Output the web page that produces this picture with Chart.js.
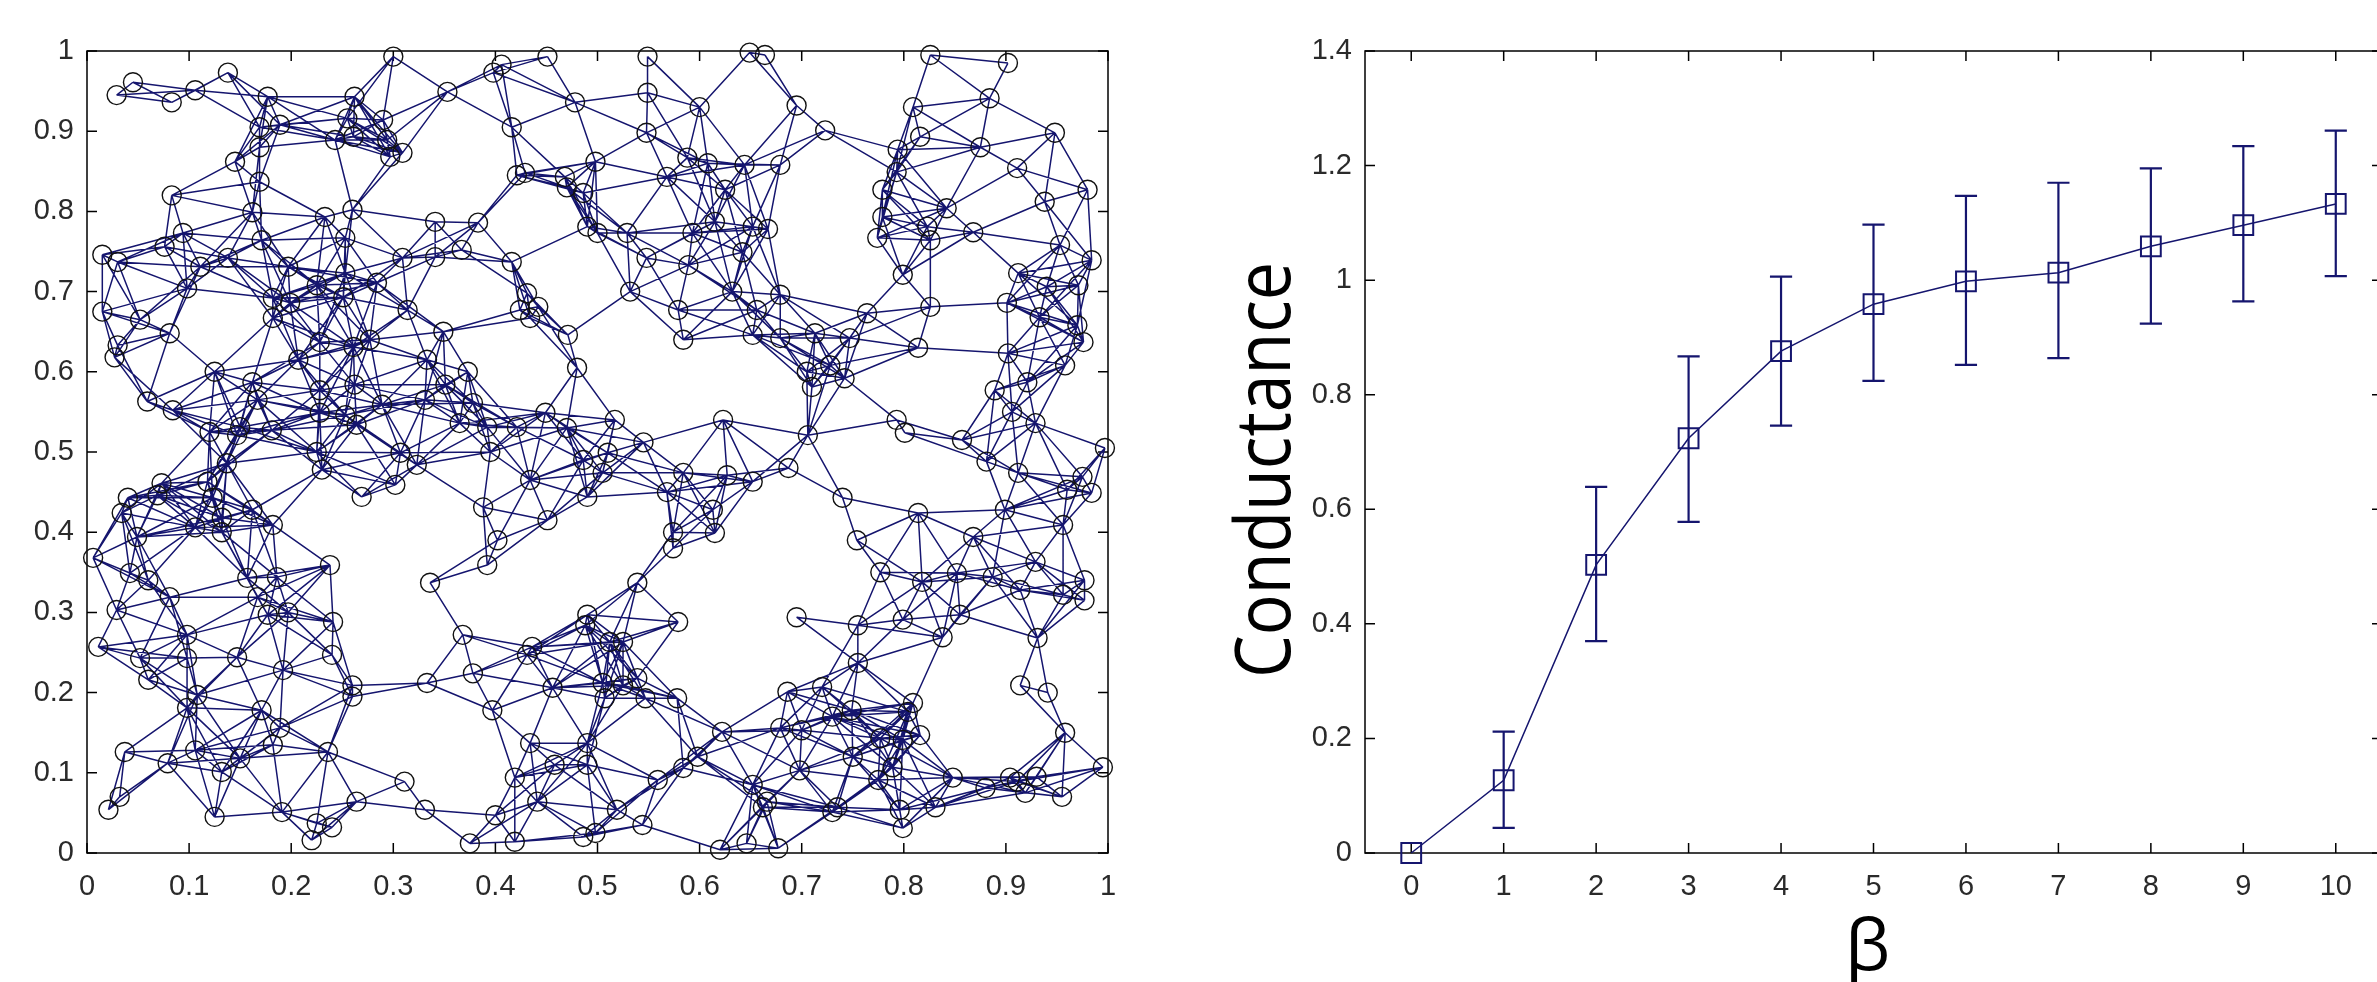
<!DOCTYPE html>
<html>
<head>
<meta charset="utf-8">
<script src="https://cdn.jsdelivr.net/npm/chart.js@4.4.0/dist/chart.umd.min.js"></script>
<style>
html, body { margin:0; padding:0; background:#fff; overflow:hidden; width:2377px; height:982px; }
#netBox { position:absolute; left:0; top:0; width:1190px; height:982px; }
#condBox { position:absolute; left:1190px; top:0; width:1220px; height:982px; }
</style>
</head>
<body>
<div id="netBox"><canvas id="netChart"></canvas></div>
<div id="condBox"><canvas id="condChart"></canvas></div>
<script>
// node positions of the network (left panel)
const nodes = [
  [0.300,0.993],[0.138,0.973],[0.045,0.961],[0.029,0.945],[0.083,0.936],[0.106,0.951],[0.177,0.943],[0.262,0.943],
  [0.169,0.905],[0.189,0.908],[0.255,0.916],[0.290,0.914],[0.169,0.880],[0.243,0.889],[0.261,0.893],[0.294,0.889],
  [0.297,0.868],[0.309,0.873],[0.145,0.862],[0.169,0.837],[0.083,0.820],[0.162,0.799],[0.233,0.793],[0.260,0.802],
  [0.094,0.773],[0.171,0.764],[0.253,0.767],[0.076,0.756],[0.015,0.746],[0.030,0.737],[0.111,0.731],[0.138,0.742],
  [0.197,0.731],[0.253,0.723],[0.225,0.708],[0.284,0.711],[0.309,0.742],[0.098,0.704],[0.182,0.692],[0.199,0.686],
  [0.251,0.693],[0.314,0.677],[0.015,0.675],
  [0.398,0.973],[0.406,0.983],[0.451,0.993],[0.353,0.949],[0.478,0.936],[0.549,0.993],[0.549,0.948],[0.600,0.930],
  [0.649,0.998],[0.664,0.995],[0.416,0.905],[0.548,0.898],[0.498,0.862],[0.429,0.848],[0.421,0.845],[0.468,0.843],
  [0.470,0.830],[0.486,0.823],[0.568,0.843],[0.588,0.867],[0.608,0.860],[0.644,0.858],[0.625,0.827],[0.341,0.787],
  [0.383,0.786],[0.490,0.781],[0.500,0.773],[0.529,0.773],[0.593,0.773],[0.615,0.787],[0.652,0.781],[0.667,0.778],
  [0.642,0.749],[0.367,0.752],[0.341,0.743],[0.416,0.737],[0.548,0.742],[0.589,0.733],[0.632,0.700],[0.532,0.700],
  [0.431,0.698],[0.442,0.681],[0.424,0.677],[0.579,0.677],[0.656,0.677],
  [0.826,0.995],[0.902,0.985],[0.695,0.932],[0.809,0.930],[0.884,0.941],[0.723,0.901],[0.816,0.893],[0.875,0.880],
  [0.948,0.898],[0.794,0.877],[0.793,0.849],[0.679,0.858],[0.911,0.854],[0.779,0.827],[0.980,0.827],[0.842,0.804],
  [0.938,0.812],[0.779,0.793],[0.823,0.781],[0.826,0.764],[0.774,0.767],[0.868,0.774],[0.953,0.758],[0.984,0.739],
  [0.799,0.721],[0.912,0.723],[0.940,0.706],[0.971,0.708],[0.679,0.696],[0.764,0.673],[0.826,0.681],[0.901,0.686],
  [0.933,0.668],
  [0.052,0.665],[0.081,0.648],[0.030,0.633],[0.027,0.618],[0.182,0.667],[0.228,0.637],[0.261,0.631],[0.277,0.640],
  [0.207,0.615],[0.333,0.615],[0.125,0.600],[0.162,0.587],[0.167,0.565],[0.228,0.577],[0.262,0.584],[0.059,0.563],
  [0.084,0.552],[0.228,0.549],[0.253,0.546],[0.264,0.534],[0.289,0.559],[0.331,0.565],[0.120,0.525],[0.150,0.531],
  [0.147,0.521],[0.181,0.527],[0.225,0.500],[0.230,0.478],[0.307,0.499],[0.323,0.484],[0.137,0.486],[0.302,0.459],
  [0.269,0.444],[0.073,0.461],[0.069,0.446],[0.040,0.443],[0.034,0.424],[0.118,0.463],[0.123,0.443],[0.162,0.428],
  [0.132,0.418],[0.132,0.400],[0.182,0.409],[0.106,0.406],[0.049,0.394],[0.006,0.368],[0.042,0.349],[0.060,0.340],
  [0.157,0.343],[0.186,0.344],[0.238,0.359],
  [0.349,0.650],[0.434,0.667],[0.471,0.646],[0.373,0.600],[0.351,0.584],[0.378,0.561],[0.480,0.605],[0.365,0.536],
  [0.392,0.531],[0.421,0.531],[0.449,0.549],[0.470,0.530],[0.517,0.540],[0.545,0.512],[0.395,0.500],[0.486,0.490],
  [0.510,0.499],[0.505,0.474],[0.434,0.465],[0.490,0.444],[0.568,0.450],[0.584,0.474],[0.623,0.540],[0.627,0.471],
  [0.652,0.463],[0.388,0.431],[0.451,0.415],[0.613,0.428],[0.615,0.399],[0.574,0.400],[0.574,0.380],[0.402,0.390],
  [0.392,0.359],[0.336,0.337],[0.539,0.337],[0.584,0.640],[0.652,0.646],
  [0.970,0.658],[0.976,0.637],[0.713,0.648],[0.679,0.642],[0.747,0.642],[0.814,0.630],[0.902,0.623],[0.728,0.608],
  [0.705,0.600],[0.710,0.581],[0.742,0.592],[0.958,0.608],[0.889,0.577],[0.921,0.587],[0.906,0.550],[0.793,0.540],
  [0.801,0.524],[0.929,0.536],[0.706,0.521],[0.857,0.515],[0.881,0.488],[0.997,0.505],[0.687,0.480],[0.912,0.474],
  [0.975,0.469],[0.960,0.453],[0.984,0.449],[0.740,0.443],[0.814,0.424],[0.899,0.428],[0.956,0.409],[0.754,0.390],
  [0.868,0.394],[0.929,0.363],[0.777,0.350],[0.818,0.338],[0.852,0.349],[0.887,0.344],[0.977,0.340],
  [0.029,0.303],[0.011,0.257],[0.081,0.319],[0.167,0.319],[0.197,0.300],[0.177,0.297],[0.241,0.288],[0.098,0.272],
  [0.052,0.243],[0.098,0.243],[0.147,0.244],[0.192,0.228],[0.240,0.247],[0.060,0.216],[0.108,0.197],[0.098,0.181],
  [0.171,0.178],[0.260,0.209],[0.260,0.195],[0.333,0.212],[0.189,0.156],[0.182,0.135],[0.236,0.126],[0.037,0.126],
  [0.106,0.128],[0.079,0.112],[0.150,0.118],[0.132,0.101],[0.311,0.089],[0.264,0.064],[0.032,0.070],[0.021,0.054],
  [0.125,0.045],[0.191,0.051],[0.225,0.037],[0.240,0.032],[0.220,0.016],[0.331,0.054],
  [0.490,0.297],[0.488,0.284],[0.579,0.288],[0.368,0.272],[0.436,0.257],[0.431,0.247],[0.512,0.263],[0.525,0.263],
  [0.378,0.224],[0.456,0.206],[0.505,0.212],[0.507,0.193],[0.525,0.209],[0.539,0.218],[0.547,0.193],[0.578,0.193],
  [0.397,0.178],[0.622,0.151],[0.434,0.137],[0.490,0.137],[0.490,0.110],[0.458,0.110],[0.598,0.120],[0.584,0.106],
  [0.559,0.091],[0.652,0.085],[0.662,0.057],[0.419,0.094],[0.441,0.064],[0.400,0.047],[0.519,0.054],[0.544,0.035],
  [0.375,0.012],[0.419,0.014],[0.486,0.020],[0.498,0.025],[0.620,0.004],[0.646,0.012],
  [0.695,0.294],[0.755,0.284],[0.799,0.291],[0.855,0.297],[0.914,0.328],[0.956,0.322],[0.977,0.315],[0.838,0.269],
  [0.931,0.268],[0.755,0.237],[0.914,0.209],[0.941,0.200],[0.686,0.201],[0.720,0.207],[0.749,0.178],[0.730,0.170],
  [0.809,0.187],[0.804,0.176],[0.679,0.156],[0.700,0.153],[0.777,0.143],[0.799,0.141],[0.816,0.147],[0.958,0.150],
  [0.750,0.120],[0.789,0.107],[0.775,0.091],[0.698,0.103],[0.848,0.094],[0.666,0.064],[0.735,0.057],[0.730,0.051],
  [0.796,0.054],[0.831,0.057],[0.799,0.031],[0.880,0.081],[0.904,0.094],[0.911,0.089],[0.930,0.095],[0.919,0.075],
  [0.955,0.070],[0.995,0.107],[0.677,0.006]
];
const linkRadius = 0.09;   // two nodes closer than this are joined

const netTicks = [0, 0.1, 0.2, 0.3, 0.4, 0.5, 0.6, 0.7, 0.8, 0.9, 1];
const netTickLabels = ['0', '0.1', '0.2', '0.3', '0.4', '0.5', '0.6', '0.7', '0.8', '0.9', '1'];

// conductance vs beta (right panel)
const beta = [0, 1, 2, 3, 4, 5, 6, 7, 8, 9, 10];
const conductance = [0, 0.127, 0.503, 0.724, 0.876, 0.958, 0.998, 1.013, 1.059, 1.096, 1.133];
const condLow = [0, 0.044, 0.370, 0.578, 0.746, 0.824, 0.852, 0.864, 0.924, 0.963, 1.007];
const condHigh = [0, 0.212, 0.639, 0.867, 1.006, 1.097, 1.147, 1.170, 1.195, 1.234, 1.261];
const condYTicks = [0, 0.2, 0.4, 0.6, 0.8, 1, 1.2, 1.4];
const condYLabels = ['0', '0.2', '0.4', '0.6', '0.8', '1', '1.2', '1.4'];
const condXLabels = ['0', '1', '2', '3', '4', '5', '6', '7', '8', '9', '10'];

const navy = '#15156e';
const tickFont = { family: '"Liberation Sans", Arial, sans-serif', size: 29 };
const tickColor = '#2a2a2a';

// matlab style box with inward ticks on all four sides
const boxTicks = {
  id: 'boxTicks',
  beforeDatasetsDraw(chart) {
    const ctx = chart.ctx;
    const a = chart.chartArea;
    const len = 10;
    ctx.save();
    ctx.strokeStyle = '#000';
    ctx.lineWidth = 1.5;
    ctx.strokeRect(a.left, a.top, a.right - a.left, a.bottom - a.top);
    ctx.beginPath();
    chart.scales.x.ticks.forEach(t => {
      const px = chart.scales.x.getPixelForValue(t.value);
      ctx.moveTo(px, a.bottom); ctx.lineTo(px, a.bottom - len);
      ctx.moveTo(px, a.top); ctx.lineTo(px, a.top + len);
    });
    chart.scales.y.ticks.forEach(t => {
      const py = chart.scales.y.getPixelForValue(t.value);
      ctx.moveTo(a.left, py); ctx.lineTo(a.left + len, py);
      ctx.moveTo(a.right, py); ctx.lineTo(a.right - len, py);
    });
    ctx.stroke();
    ctx.restore();
  }
};

function fixedAxis(size, vertical) {
  return scale => { if (vertical) scale.width = size; else scale.height = size; };
}

// ---------- left: network ----------
const nodePoints = nodes.map(n => ({ x: n[0], y: n[1] }));
const edgePoints = [];
for (let i = 0; i < nodes.length; i++) {
  for (let j = i + 1; j < nodes.length; j++) {
    const dx = nodes[i][0] - nodes[j][0];
    const dy = nodes[i][1] - nodes[j][1];
    if (dx * dx + dy * dy <= linkRadius * linkRadius) {
      edgePoints.push({ x: nodes[i][0], y: nodes[i][1] });
      edgePoints.push({ x: nodes[j][0], y: nodes[j][1] });
      edgePoints.push({ x: nodes[j][0], y: null });
    }
  }
}

new Chart(document.getElementById('netChart'), {
  type: 'scatter',
  data: {
    datasets: [
      {
        data: nodePoints, order: 0, clip: false,
        pointStyle: 'circle', pointRadius: 9.5, pointBorderWidth: 1.4,
        pointBorderColor: '#111', pointBackgroundColor: 'rgba(0,0,0,0)', showLine: false
      },
      {
        data: edgePoints, order: 1, showLine: true, spanGaps: false,
        borderColor: navy, borderWidth: 1.5, pointRadius: 0
      }
    ]
  },
  options: {
    responsive: true, maintainAspectRatio: false, animation: false, devicePixelRatio: 1,
    events: [],
    layout: { padding: { left: 0, top: 51, right: 82, bottom: 0 } },
    plugins: { legend: { display: false }, tooltip: { enabled: false } },
    scales: {
      x: {
        type: 'linear', min: 0, max: 1,
        grid: { display: false, drawTicks: false }, border: { display: false },
        afterBuildTicks: s => { s.ticks = netTicks.map(v => ({ value: v })); },
        afterFit: fixedAxis(129, false),
        ticks: { font: tickFont, color: tickColor, padding: 17, maxRotation: 0,
                 callback: (v, i) => netTickLabels[i] }
      },
      y: {
        type: 'linear', min: 0, max: 1,
        grid: { display: false, drawTicks: false }, border: { display: false },
        afterBuildTicks: s => { s.ticks = netTicks.map(v => ({ value: v })); },
        afterFit: fixedAxis(87, true),
        ticks: { font: tickFont, color: tickColor, padding: 13,
                 callback: (v, i) => netTickLabels[i] }
      }
    }
  },
  plugins: [boxTicks]
});

// ---------- right: conductance ----------
const capHalf = 0.12;
const errPoints = [];
beta.forEach((b, i) => {
  if (condHigh[i] === condLow[i]) return;
  errPoints.push({ x: b, y: condLow[i] }, { x: b, y: condHigh[i] }, { x: b, y: null });
  errPoints.push({ x: b - capHalf, y: condLow[i] }, { x: b + capHalf, y: condLow[i] }, { x: b, y: null });
  errPoints.push({ x: b - capHalf, y: condHigh[i] }, { x: b + capHalf, y: condHigh[i] }, { x: b, y: null });
});

const axisTitles = {
  id: 'axisTitles',
  afterDraw(chart) {
    const ctx = chart.ctx;
    ctx.save();
    ctx.fillStyle = '#000';
    ctx.font = '76px "Open Sans", "Noto Sans", sans-serif';
    ctx.textAlign = 'center';
    ctx.textBaseline = 'alphabetic';
    ctx.translate(100, 470);
    ctx.rotate(-Math.PI / 2);
    ctx.fillText('Conductance', 0, 0, 416);
    ctx.restore();
    ctx.save();
    ctx.fillStyle = '#000';
    ctx.font = '72px "Open Sans", "Noto Sans", sans-serif';
    ctx.textAlign = 'center';
    ctx.textBaseline = 'alphabetic';
    ctx.fillText('\u03B2', chart.scales.x.getPixelForValue(5) - 6, 970);
    ctx.restore();
  }
};

new Chart(document.getElementById('condChart'), {
  type: 'scatter',
  data: {
    datasets: [
      {
        data: beta.map((b, i) => ({ x: b, y: conductance[i] })), order: 0, clip: false,
        showLine: true, borderColor: navy, borderWidth: 1.5,
        pointStyle: 'rect', pointRadius: 14, pointBorderWidth: 2,
        pointBorderColor: navy, pointBackgroundColor: 'rgba(0,0,0,0)'
      },
      {
        data: errPoints, order: 1, showLine: true, spanGaps: false,
        borderColor: navy, borderWidth: 2.2, pointRadius: 0
      }
    ]
  },
  options: {
    responsive: true, maintainAspectRatio: false, animation: false, devicePixelRatio: 1,
    events: [],
    layout: { padding: { left: 0, top: 51, right: 28, bottom: 0 } },
    plugins: { legend: { display: false }, tooltip: { enabled: false } },
    scales: {
      x: {
        type: 'linear', min: -0.5, max: 10.5,
        grid: { display: false, drawTicks: false }, border: { display: false },
        afterBuildTicks: s => { s.ticks = beta.map(v => ({ value: v })); },
        afterFit: fixedAxis(129, false),
        ticks: { font: tickFont, color: tickColor, padding: 17, maxRotation: 0,
                 callback: (v, i) => condXLabels[i] }
      },
      y: {
        type: 'linear', min: 0, max: 1.4,
        grid: { display: false, drawTicks: false }, border: { display: false },
        afterBuildTicks: s => { s.ticks = condYTicks.map(v => ({ value: v })); },
        afterFit: fixedAxis(175, true),
        ticks: { font: tickFont, color: tickColor, padding: 13,
                 callback: (v, i) => condYLabels[i] }
      }
    }
  },
  plugins: [boxTicks, axisTitles]
});
</script>
</body>
</html>
